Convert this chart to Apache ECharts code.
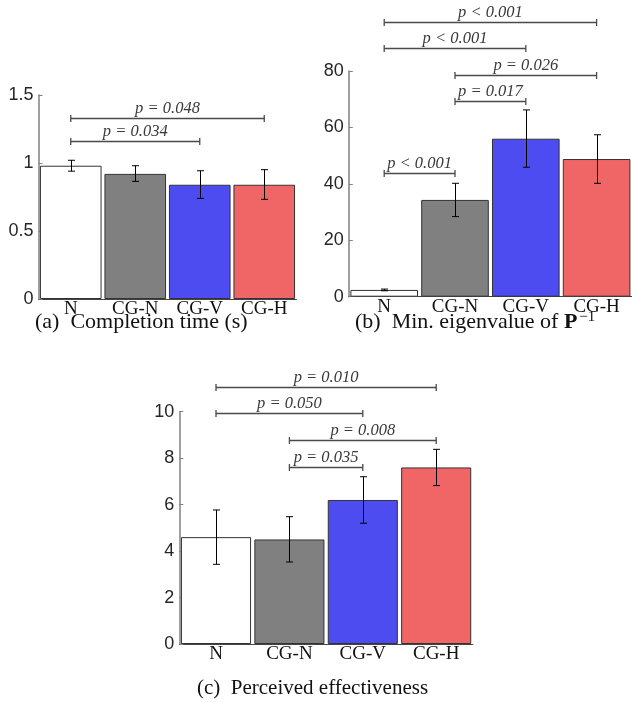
<!DOCTYPE html>
<html>
<head>
<meta charset="utf-8">
<script src="https://cdn.jsdelivr.net/npm/echarts@6/dist/echarts.min.js"></script>
<style>
html,body{margin:0;padding:0;background:#fff;}
#chart{width:632px;height:702px;}
</style>
</head>
<body>
<div id="chart"></div>
<script>
// ---- data ----
var categories = ['N', 'CG-N', 'CG-V', 'CG-H'];
var barColors = ['#ffffff', '#808080', '#4c4cf0', '#f06666'];

// (a) completion time (s)
var timeMean = [0.98, 0.92, 0.84, 0.84];
var timeLow  = [0.94, 0.865, 0.74, 0.733];
var timeHigh = [1.02, 0.98, 0.943, 0.951];
var timeTicks = [0, 0.5, 1, 1.5];
// [from, to, level, text]
var timeSig = [
  [0, 3, 1.333, 'p = 0.048'],
  [0, 2, 1.16, 'p = 0.034']
];

// (b) min eigenvalue of P^-1
var eigMean = [2.4, 34.3, 56.0, 48.8];
var eigLow  = [2.1, 28.4, 45.9, 40.2];
var eigHigh = [2.7, 40.2, 66.2, 57.4];
var eigTicks = [0, 20, 40, 60, 80];
var eigSig = [
  [0, 3, 97.3, 'p < 0.001'],
  [0, 2, 88.0, 'p < 0.001'],
  [1, 3, 78.7, 'p = 0.026'],
  [1, 2, 69.5, 'p = 0.017'],
  [0, 1, 43.7, 'p < 0.001']
];

// (c) perceived effectiveness
var effMean = [4.6, 4.5, 6.2, 7.6];
var effLow  = [3.43, 3.53, 5.2, 6.82];
var effHigh = [5.77, 5.48, 7.2, 8.38];
var effTicks = [0, 2, 4, 6, 8, 10];
var effSig = [
  [0, 3, 11.06, 'p = 0.010'],
  [0, 2, 9.93, 'p = 0.050'],
  [1, 3, 8.78, 'p = 0.008'],
  [1, 2, 7.63, 'p = 0.035']
];

var captions = ['(a)\u2002Completion time (s)', '(b)\u2002Min. eigenvalue of ', '(c)\u2002Perceived effectiveness'];
var captionB_matrix = 'P';
var captionB_sup = '\u22121';

// ---- chart ----
var SERIF = '"Liberation Serif", "Times New Roman", serif';
var SANS = '"Liberation Sans", Arial, sans-serif';

var grids = [
  {left: 38.5, top: 95, width: 258, height: 204},
  {left: 348.8, top: 71, width: 287, height: 225.7},
  {left: 179.3, top: 411.7, width: 293.6, height: 232.3}
];

function makeX(gi) {
  return {
    type: 'category', gridIndex: gi, data: categories,
    axisLine: {show: true, lineStyle: {color: '#444', width: 1}},
    axisTick: {show: false},
    axisLabel: {fontFamily: SERIF, fontSize: 19, color: '#111', margin: 1}
  };
}
function makeY(gi, ticks) {
  return {
    type: 'value', gridIndex: gi, min: ticks[0], max: ticks[ticks.length - 1],
    interval: ticks[1] - ticks[0],
    splitLine: {show: false},
    axisLine: {show: true, lineStyle: {color: '#808080', width: 1.5}},
    axisTick: {show: true, inside: true, length: 4, lineStyle: {color: '#808080', width: 1}},
    axisLabel: {fontFamily: SANS, fontSize: 18, color: '#262626', margin: 5}
  };
}

function barSeries(gi, values) {
  return {
    type: 'bar', xAxisIndex: gi, yAxisIndex: gi,
    barCategoryGap: '4.5%',
    data: values.map(function (v, i) {
      return {value: v, itemStyle: {color: barColors[i], borderColor: '#333', borderWidth: 1}};
    }),
    silent: true
  };
}

function errSeries(gi, low, high) {
  return {
    type: 'custom', xAxisIndex: gi, yAxisIndex: gi, silent: true, z: 5,
    data: low.map(function (l, i) { return [i, l, high[i]]; }),
    renderItem: function (params, api) {
      var p1 = api.coord([api.value(0), api.value(1)]);
      var p2 = api.coord([api.value(0), api.value(2)]);
      var x = Math.round(p1[0]) + 0.5;
      var st = {stroke: '#000', lineWidth: 1};
      return {type: 'group', children: [
        {type: 'line', shape: {x1: x, y1: p1[1], x2: x, y2: p2[1]}, style: st},
        {type: 'line', shape: {x1: x - 3.5, y1: p1[1], x2: x + 3.5, y2: p1[1]}, style: st},
        {type: 'line', shape: {x1: x - 3.5, y1: p2[1], x2: x + 3.5, y2: p2[1]}, style: st}
      ]};
    }
  };
}

function sigSeries(gi, sig) {
  return {
    type: 'custom', xAxisIndex: gi, yAxisIndex: gi, silent: true, clip: false, z: 6,
    data: sig.map(function (s) { return [s[0], s[1], s[2]]; }),
    renderItem: function (params, api) {
      var a = api.coord([api.value(0), api.value(2)]);
      var b = api.coord([api.value(1), api.value(2)]);
      var y = Math.round(a[1]) + 0.5;
      var st = {stroke: '#4a4a4a', lineWidth: 1.3};
      var txt = sig[params.dataIndex][3];
      return {type: 'group', children: [
        {type: 'line', shape: {x1: a[0], y1: y, x2: b[0], y2: y}, style: st},
        {type: 'line', shape: {x1: a[0], y1: y - 3.5, x2: a[0], y2: y + 3.5}, style: st},
        {type: 'line', shape: {x1: b[0], y1: y - 3.5, x2: b[0], y2: y + 3.5}, style: st},
        {type: 'text', style: {
          text: txt, x: (a[0] + b[0]) / 2, y: y - 1,
          align: 'center', verticalAlign: 'bottom',
          font: 'italic 16.5px ' + SERIF, fill: '#3a3a3a'
        }}
      ]};
    }
  };
}

// measure caption (b) pieces for inline placement
var mctx = document.createElement('canvas').getContext('2d');
var capFont = '22px ' + SERIF;
var capBold = 'bold 22px ' + SERIF;
mctx.font = capFont;
var wB1 = mctx.measureText(captions[1]).width;
mctx.font = capBold;
var wB2 = mctx.measureText(captionB_matrix).width;
var capBx = 355, capTop = 311;

var chart = echarts.init(document.getElementById('chart'), null, {renderer: 'canvas'});
chart.setOption({
  animation: false,
  backgroundColor: '#fff',
  grid: grids,
  xAxis: [makeX(0), makeX(1), makeX(2)],
  yAxis: [makeY(0, timeTicks), makeY(1, eigTicks), makeY(2, effTicks)],
  series: [
    barSeries(0, timeMean), errSeries(0, timeLow, timeHigh), sigSeries(0, timeSig),
    barSeries(1, eigMean), errSeries(1, eigLow, eigHigh), sigSeries(1, eigSig),
    barSeries(2, effMean), errSeries(2, effLow, effHigh), sigSeries(2, effSig)
  ],
  graphic: [
    {type: 'text', left: 35, top: capTop, style: {text: captions[0], font: capFont, fill: '#111'}},
    {type: 'text', left: capBx, top: capTop, style: {text: captions[1], font: capFont, fill: '#111'}},
    {type: 'text', left: capBx + wB1, top: capTop, style: {text: captionB_matrix, font: capBold, fill: '#111'}},
    {type: 'text', left: capBx + wB1 + wB2 + 2, top: capTop - 1, style: {text: captionB_sup, font: '15px ' + SERIF, fill: '#111'}},
    {type: 'text', left: 197, top: 678, style: {text: captions[2], font: '21px ' + SERIF, fill: '#111'}}
  ]
});
</script>
</body>
</html>
